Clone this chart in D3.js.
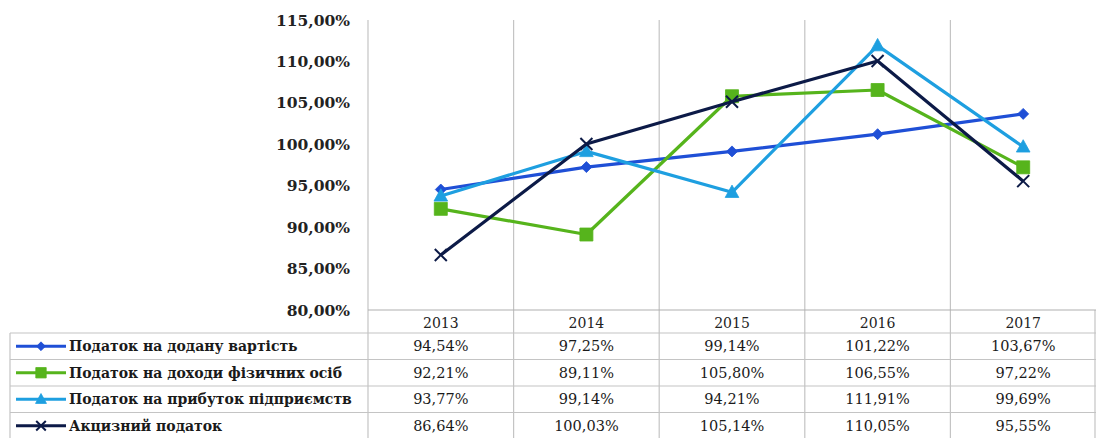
<!DOCTYPE html>
<html>
<head>
<meta charset="utf-8">
<script src="https://cdn.jsdelivr.net/npm/d3@7"></script>
<style>
  body { margin: 0; background: #fff; }
  svg { display: block; }
</style>
</head>
<body>
<div id="chart"></div>
<script>
const years = ["2013", "2014", "2015", "2016", "2017"];
const seriesNames = [
  "Податок на додану вартість",
  "Податок на доходи фізичних осіб",
  "Податок на прибуток підприємств",
  "Акцизний  податок"
];
const vatValues = [94.54, 97.25, 99.14, 101.22, 103.67];
const pitValues = [92.21, 89.11, 105.80, 106.55, 97.22];
const citValues = [93.77, 99.14, 94.21, 111.91, 99.69];
const exciseValues = [86.64, 100.03, 105.14, 110.05, 95.55];
const yTicks = [80, 85, 90, 95, 100, 105, 110, 115];

const colors = ["#1f4fd6", "#56b41c", "#1e9fe0", "#0c1a47"];
const markers = ["diamond", "square", "triangle", "cross"];
const allValues = [vatValues, pitValues, citValues, exciseValues];

const width = 1096, height = 438;
const plotLeft = 368, plotRight = 1096, plotTop = 20, plotBottom = 310;
const rowTop = 333, rowH = 26.5, tableLeft = 10;
const font = "DejaVu Serif, serif";

const svg = d3.select("#chart").append("svg")
  .attr("width", width)
  .attr("height", height);

const x = d3.scaleBand().domain(years).range([plotLeft, plotRight]);
const y = d3.scaleLinear().domain([80, 115]).range([plotBottom, plotTop]);

const fmt = v => v.toFixed(2).replace(".", ",") + "%";
const grid = "#c4c4c4";

// vertical gridlines through plot and table
years.forEach(yr => {
  svg.append("line")
    .attr("x1", x(yr)).attr("x2", x(yr))
    .attr("y1", plotTop).attr("y2", height)
    .attr("stroke", grid).attr("stroke-width", 1.2);
});
svg.append("line")
  .attr("x1", plotRight - 1).attr("x2", plotRight - 1)
  .attr("y1", plotBottom).attr("y2", height)
  .attr("stroke", grid).attr("stroke-width", 1.2);

// horizontal table lines
svg.append("line")
  .attr("x1", plotLeft).attr("x2", plotRight)
  .attr("y1", plotBottom).attr("y2", plotBottom)
  .attr("stroke", "#b0b0b0").attr("stroke-width", 1.2);
for (let r = 0; r < 4; r++) {
  svg.append("line")
    .attr("x1", tableLeft).attr("x2", plotRight)
    .attr("y1", rowTop + r * rowH).attr("y2", rowTop + r * rowH)
    .attr("stroke", grid).attr("stroke-width", 1.2);
}
svg.append("line")
  .attr("x1", tableLeft).attr("x2", tableLeft)
  .attr("y1", rowTop).attr("y2", height)
  .attr("stroke", grid).attr("stroke-width", 1.2);

// y axis labels
svg.append("g")
  .selectAll("text")
  .data(yTicks)
  .enter()
  .append("text")
  .attr("x", 350)
  .attr("y", d => y(d))
  .attr("dy", "0.36em")
  .attr("text-anchor", "end")
  .attr("font-family", font)
  .attr("font-weight", "bold")
  .attr("font-size", 15.5)
  .attr("fill", "#222")
  .text(d => d.toFixed(2).replace(".", ",") + "%");

// year header
svg.append("g")
  .selectAll("text")
  .data(years)
  .enter()
  .append("text")
  .attr("x", d => x(d) + x.bandwidth() / 2)
  .attr("y", (plotBottom + rowTop) / 2 + 1)
  .attr("dy", "0.38em")
  .attr("text-anchor", "middle")
  .attr("font-family", font)
  .attr("font-size", 14)
  .attr("fill", "#222")
  .text(d => d);

function markerPath(type, size) {
  const s = size / 2;
  if (type === "diamond") return `M0,${-s}L${s},0L0,${s}L${-s},0Z`;
  if (type === "square") return `M${-s},${-s}H${s}V${s}H${-s}Z`;
  if (type === "triangle") return `M0,${-s * 1.1}L${s * 1.05},${s * 0.8}L${-s * 1.05},${s * 0.8}Z`;
  return `M${-s},${-s}L${s},${s}M${-s},${s}L${s},${-s}`;
}
const markerSize = [11, 13, 13, 12];

function drawMarker(g, type, color, size) {
  if (type === "cross") {
    g.append("path").attr("d", markerPath(type, size))
      .attr("stroke", color).attr("stroke-width", 2).attr("fill", "none");
  } else {
    g.append("path").attr("d", markerPath(type, size))
      .attr("fill", color).attr("stroke", color).attr("stroke-width", 0.8);
  }
}

const line = d3.line()
  .x((d, i) => x(years[i]) + x.bandwidth() / 2)
  .y(d => y(d));

allValues.forEach((vals, s) => {
  const g = svg.append("g");
  g.append("path")
    .datum(vals)
    .attr("d", line)
    .attr("fill", "none")
    .attr("stroke", colors[s])
    .attr("stroke-width", 3.2)
    .attr("stroke-linejoin", "round");
  vals.forEach((v, i) => {
    const m = g.append("g")
      .attr("transform", `translate(${x(years[i]) + x.bandwidth() / 2},${y(v)})`);
    drawMarker(m, markers[s], colors[s], markerSize[s]);
  });

  // table row
  const rowY = rowTop + s * rowH + rowH / 2;
  svg.append("line")
    .attr("x1", 16).attr("x2", 66)
    .attr("y1", rowY).attr("y2", rowY)
    .attr("stroke", colors[s]).attr("stroke-width", 3.2);
  const lm = svg.append("g").attr("transform", `translate(41,${rowY})`);
  drawMarker(lm, markers[s], colors[s], markerSize[s] * 0.8);
  svg.append("text")
    .attr("x", 69)
    .attr("y", rowY)
    .attr("dy", "0.36em")
    .attr("font-family", font)
    .attr("font-weight", "bold")
    .attr("font-size", 14)
    .attr("fill", "#1a1a1a")
    .text(seriesNames[s]);
  vals.forEach((v, i) => {
    svg.append("text")
      .attr("x", x(years[i]) + x.bandwidth() / 2)
      .attr("y", rowY)
      .attr("dy", "0.36em")
      .attr("text-anchor", "middle")
      .attr("font-family", font)
      .attr("font-size", 14.5)
      .attr("fill", "#1a1a1a")
      .text(fmt(v));
  });
});
</script>
</body>
</html>
